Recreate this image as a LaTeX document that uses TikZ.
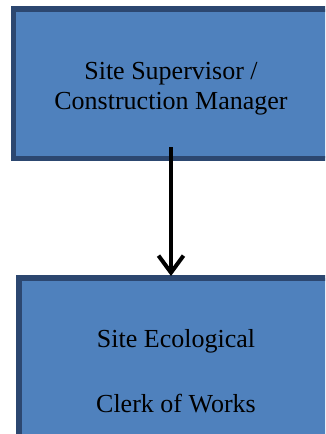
\documentclass[tikz,border=0pt]{standalone}
\usepackage{fontspec}
\setmainfont{Liberation Serif}
\usetikzlibrary{arrows.meta}
\definecolor{boxfill}{HTML}{4F81BD}
\definecolor{boxline}{HTML}{2C4770}
\tikzset{
  rolebox/.style={draw=boxline, fill=boxfill, line width=5.5pt, rectangle,
    inner sep=0pt, outer sep=0pt},
  roletext/.style={align=center, font=\fontsize{26}{30}\selectfont, inner sep=0pt},
  reportline/.style={line width=4pt, -{Straight Barb[length=17pt, width=25pt, line width=4pt]}}
}
\begin{document}
\begin{tikzpicture}[x=1pt, y=-1pt]
  \useasboundingbox (0,0) rectangle (325,434);
  \clip (0,0) rectangle (325,434);
  % management boxes
  \node[rolebox, minimum width=322pt, minimum height=149.5pt] (sup) at (174.25,83.5) {};
  \node[rolebox, minimum width=322pt, minimum height=164pt] (eco) at (179.75,359.75) {};
  % box labels
  \node[roletext] (supText) at (171,89) {Site Supervisor /\\Construction Manager};
  \node[roletext] (ecoText) at (176,370.7) {Site Ecological\\[35pt]Clerk of Works};
  % reporting line
  \coordinate (arrTop) at (171,147);
  \coordinate (arrTip) at (171,276);
  \draw[reportline] (arrTop) -- (arrTip);
\end{tikzpicture}
\end{document}
